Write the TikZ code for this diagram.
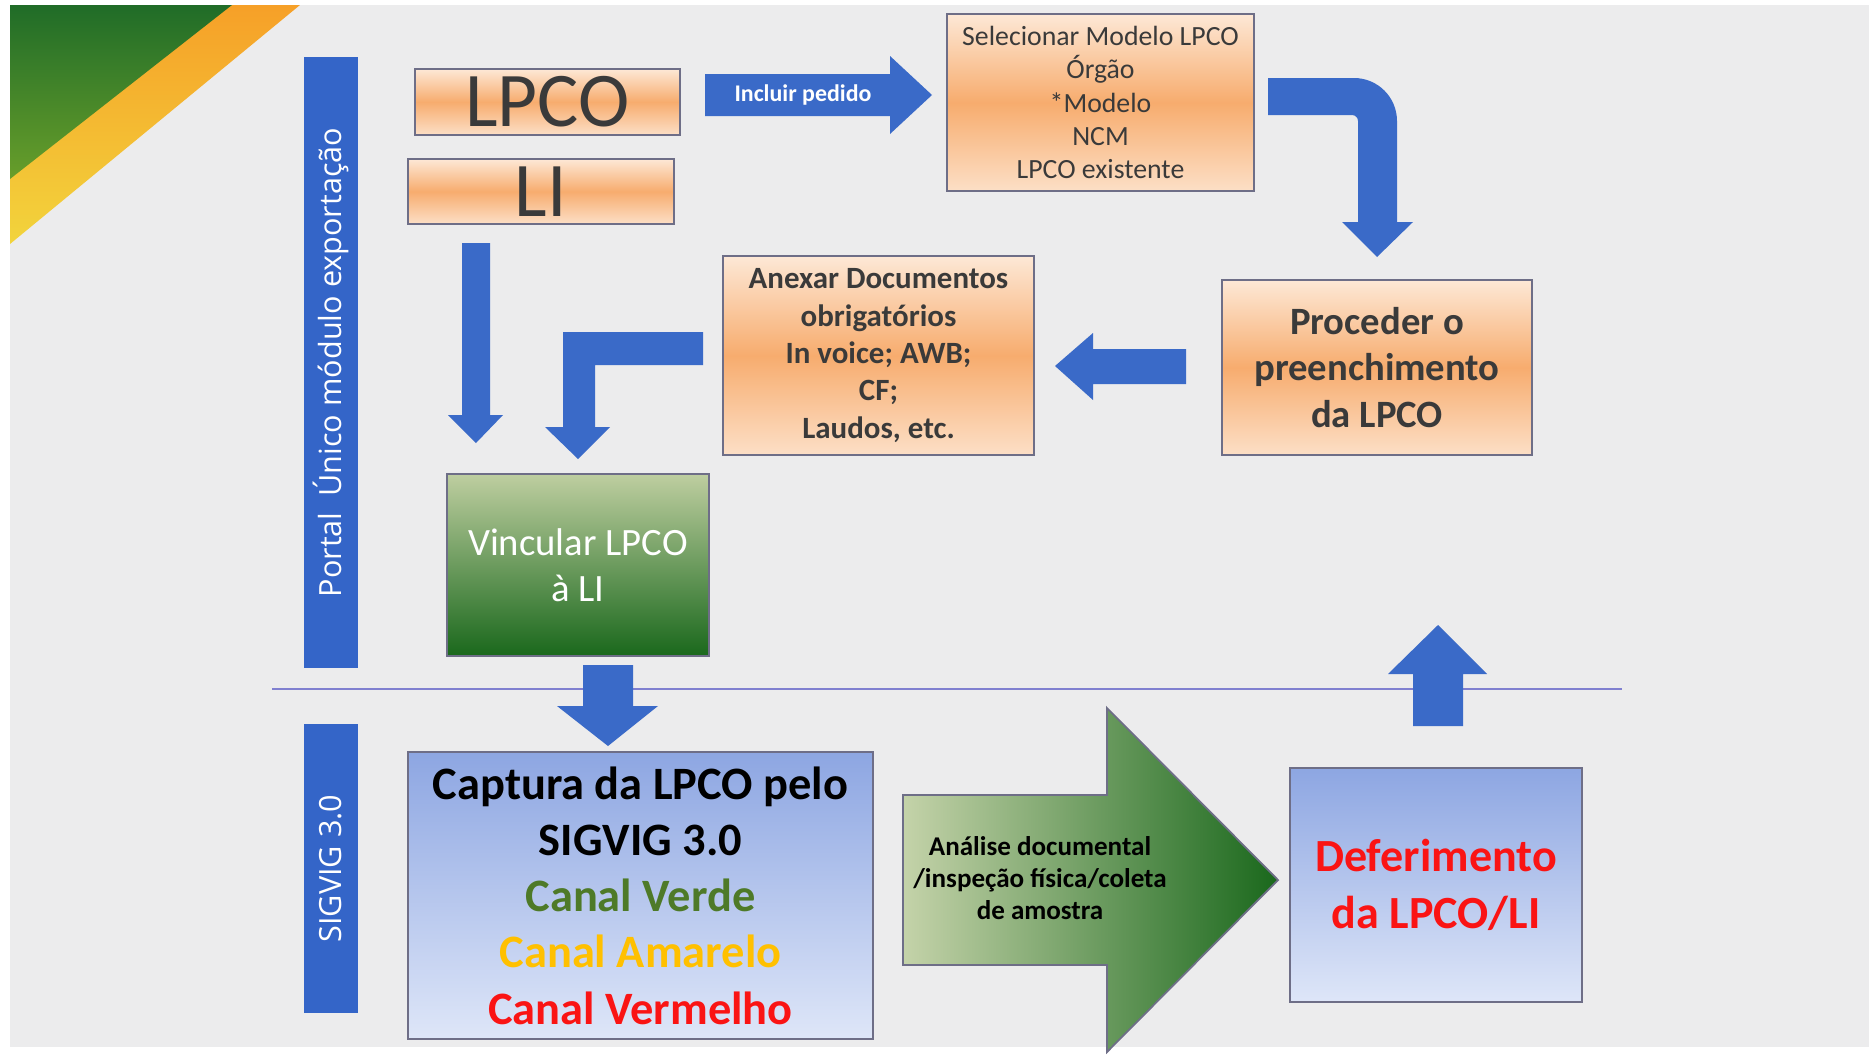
\documentclass[tikz,border=0pt]{standalone}
\usepackage{fontspec}
\setmainfont{Carlito}
\newfontfamily\barfont{Open Sans}
\usetikzlibrary{calc}

\definecolor{bggray}{RGB}{236,236,237}
\definecolor{barblue}{RGB}{52,101,200}
\definecolor{arrowblue}{RGB}{58,106,200}
\definecolor{boxline}{RGB}{110,110,135}
\definecolor{boxtext}{RGB}{58,58,58}
\definecolor{peachlt}{RGB}{253,232,214}
\definecolor{peachdk}{RGB}{247,172,110}
\definecolor{bluedk}{RGB}{141,166,226}
\definecolor{bluelt}{RGB}{222,230,248}
\definecolor{greenlt}{RGB}{190,206,160}
\definecolor{greendk}{RGB}{26,104,28}
\definecolor{verde}{RGB}{78,122,40}
\definecolor{amarelo}{RGB}{255,192,0}
\definecolor{vermelho}{RGB}{250,20,20}
\definecolor{linelav}{RGB}{128,128,208}
\definecolor{cornergreen}{RGB}{32,108,40}
\definecolor{cornerlime}{RGB}{104,158,42}
\definecolor{bandorange}{RGB}{246,160,40}
\definecolor{bandyellow}{RGB}{242,212,60}

\tikzset{
  peachbox/.style={draw=boxline, line width=0.5pt, top color=peachlt, bottom color=peachlt!85!peachdk,
    middle color=peachdk, text=boxtext, align=center, inner sep=0pt},
  bluebox/.style={draw=boxline, line width=0.5pt, top color=bluedk, bottom color=bluelt,
    align=center, inner sep=0pt},
  greenbox/.style={draw=boxline, line width=0.5pt, top color=greenlt, bottom color=greendk,
    text=white, align=center, inner sep=0pt},
  sidebar/.style={fill=barblue, rotate=90, text=white, inner sep=0pt,
    minimum height=0.54cm, font=\barfont\fontsize{8.7}{10}\selectfont},
  blockarrow/.style={fill=arrowblue}
}

\begin{document}
\begin{tikzpicture}[x=0.01cm,y=-0.01cm]
			%%%%% START %%%%%
			\useasboundingbox (0,0) rectangle (1869,1054);
			\fill[white] (0,0) rectangle (1869,1054);
			\fill[bggray] (10,5) rectangle (1869,1047);
			
			% corner
			\shade[top color=bandorange, bottom color=bandyellow] (10,5) -- (300,5) -- (10,244) -- cycle;
			\shade[top color=cornergreen, bottom color=cornerlime] (10,5) -- (232,5) -- (10,179) -- cycle;
			
			% side bars
			\node[sidebar, minimum width=6.11cm] (portal) at (331,362.5) {Portal~ Único módulo exportação};
			\node[sidebar, minimum width=2.89cm] (sigbar) at (331,868.5) {SIGVIG 3.0};
			
			\draw[linelav, line width=0.6pt] (272,689) -- (1622,689);
			
			% boxes
			\node[peachbox, minimum width=2.65cm, minimum height=0.66cm, font=\fontsize{22}{26}\selectfont] (lpco) at (547.5,102) {LPCO};
			\node[peachbox, minimum width=2.66cm, minimum height=0.65cm, font=\fontsize{22}{26}\selectfont] (li) at (541,191.5) {LI};
			\node[peachbox, minimum width=3.07cm, minimum height=1.77cm, font=\fontsize{7.9}{9.4}\selectfont] (sel) at (1100.5,102.5)
				{Selecionar Modelo LPCO\\Órgão\\*Modelo\\NCM\\LPCO existente};
			\node[peachbox, minimum width=3.10cm, minimum height=1.75cm, font=\bfseries\fontsize{11}{13.2}\selectfont] (proc) at (1377,367.5)
				{Proceder o\\preenchimento\\da LPCO};
			\node[peachbox, minimum width=3.11cm, minimum height=1.99cm, font=\bfseries\fontsize{8.8}{10.6}\selectfont] (anx) at (878.5,355.5)
				{Anexar Documentos\\obrigatórios\\In voice; AWB;\\CF;\\Laudos, etc.};
			\node[greenbox, minimum width=2.62cm, minimum height=1.82cm, font=\fontsize{11}{13.2}\selectfont] (vinc) at (578,565)
				{Vincular LPCO\\à LI};
			\node[bluebox, minimum width=4.65cm, minimum height=2.87cm, font=\bfseries\fontsize{13.2}{16}\selectfont] (capt) at (640.5,895.5)
				{Captura da LPCO pelo\\SIGVIG 3.0\\\textcolor{verde}{Canal Verde}\\\textcolor{amarelo}{Canal Amarelo}\\\textcolor{vermelho}{Canal Vermelho}};
			\node[bluebox, minimum width=2.92cm, minimum height=2.34cm, text=vermelho, font=\bfseries\fontsize{13.1}{16}\selectfont] (def) at (1436,885)
				{Deferimento\\da LPCO/LI};
			
			% blue arrows
			\fill[blockarrow] (705,74) -- (890,74) -- (890,56) -- (932,95) -- (890,134) -- (890,116) -- (705,116) -- cycle;
			\node[text=white, font=\bfseries\fontsize{6.8}{8}\selectfont] (incl) at (803,95) {Incluir pedido};
			
			\fill[blockarrow] (1268,78) -- (1354,78) arc (-90:0:43) -- (1397,222) -- (1413,222) -- (1377,257) -- (1342,222)
				-- (1358,222) -- (1358,121) arc (0:-90:6) -- (1268,115) -- cycle;
			
			\fill[blockarrow] (1186,349) -- (1093,349) -- (1093,333) -- (1055,366) -- (1093,400) -- (1093,384) -- (1186,384) -- cycle;
			
			\fill[blockarrow] (703,332) -- (563,332) -- (563,427) -- (545,427) -- (578,459) -- (610,427) -- (595,427) -- (595,365) -- (703,365) -- cycle;
			
			\fill[blockarrow] (462,243) -- (490,243) -- (490,415) -- (503,415) -- (476,443) -- (448,415) -- (462,415) -- cycle;
			
			\fill[blockarrow] (583,665) -- (633,665) -- (633,706) -- (658,706) -- (608,746) -- (557,706) -- (583,706) -- cycle;
			
			\fill[blockarrow] (1413,726) -- (1463,726) -- (1463,674) -- (1487,674) -- (1438,625) -- (1388,674) -- (1413,674) -- cycle;
			
			% green arrow
			\shade[left color=greenlt!90!white, right color=greendk, draw=boxline, line width=0.5pt]
				(903,795) -- (1107,795) -- (1107,708) -- (1278,880) -- (1107,1052) -- (1107,965) -- (903,965) -- cycle;
			\node[align=center, font=\bfseries\fontsize{7.7}{9.2}\selectfont] (anal) at (1040,878)
				{Análise documental\\/inspeção física/coleta\\de amostra};
			
			%%%%% END %%%%%
\end{tikzpicture}
\end{document}
